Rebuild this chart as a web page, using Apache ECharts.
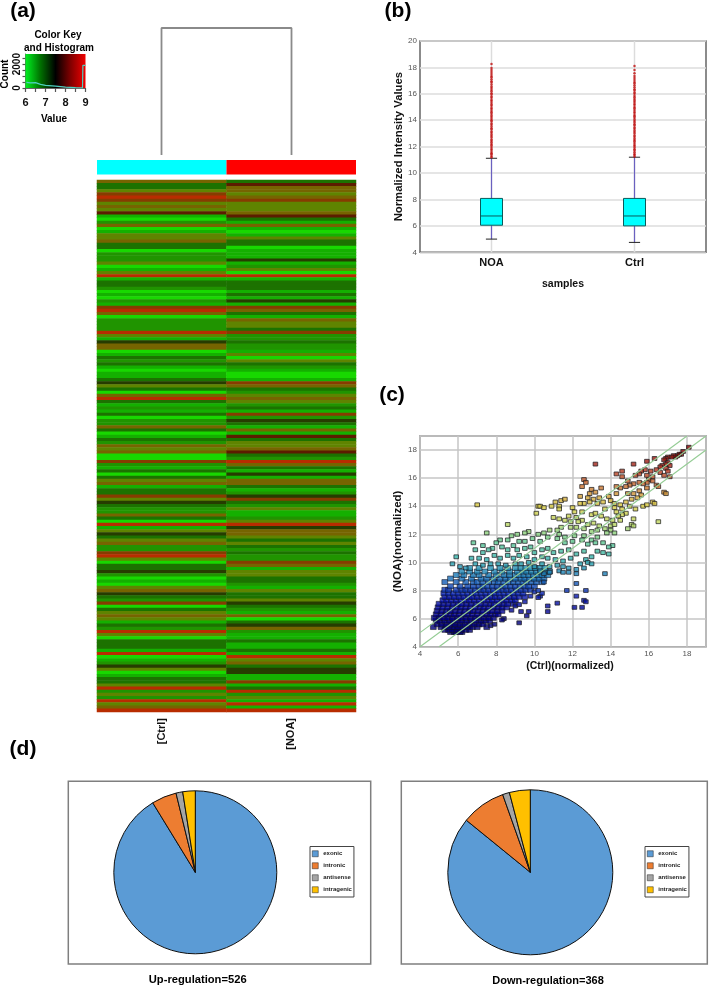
<!DOCTYPE html>
<html><head><meta charset="utf-8">
<style>html,body{margin:0;padding:0;background:#fff}#c{width:709px;height:988px}</style>
<script src="https://cdn.jsdelivr.net/npm/echarts@6/dist/echarts.min.js"></script>
</head><body><div id="c"></div>
<script>
// ---------- (a) colour key
const keyGradientLine=[[6,2850],[9,2850]];
const keyHistogram=[[6.05,470],[6.25,430],[6.5,450],[6.75,300],[7,220],[7.5,160],[8,80],[8.5,25],[8.85,10],[8.87,1900],[9,1900]];
// ---------- (a) dendrogram
const dendroLine=[[0,0],[0,1],[1,1],[1,0]];
// ---------- (a) heat map: colour level per row, top to bottom
const heatCols=['[Ctrl]','[NOA]'];
const heatCtrl=[
 6,3,3,5,7,8,7,5,6,5,9,1,0,2,6,0,1,5,5,6,3,3,0,2,2,2,5,0,1,5,8,1,3,3,2,0,1,
 0,2,1,7,8,6,0,2,2,2,2,8,5,1,4,6,6,0,1,3,2,3,1,0,1,1,3,4,5,3,0,6,8,3,1,2,
 1,3,0,2,2,6,3,0,1,3,2,6,5,6,0,0,7,2,1,3,0,3,5,6,1,3,3,7,5,4,3,2,2,6,3,0,
 8,1,5,4,3,5,6,2,2,7,8,5,0,3,3,4,2,0,1,0,5,6,4,3,2,7,0,3,5,6,5,1,3,2,8,5,0,3,
 3,3,1,8,0,1,2,4,5,0,1,3,3,5,8,2,5,2,8,5,6,8];
const heatNoa=[
 3,9,6,6,5,6,7,5,5,5,6,9,3,1,6,1,0,1,5,3,3,0,1,1,1,4,1,2,5,0,8,1,3,3,3,1,3,
 1,4,1,7,6,3,1,6,5,5,3,7,2,2,3,2,2,1,5,0,5,3,2,1,0,0,1,7,6,3,2,5,6,5,2,3,
 1,7,2,4,3,1,6,1,9,3,5,5,6,9,3,2,8,6,3,1,4,1,6,6,3,1,2,4,7,3,2,5,1,1,2,5,
 8,4,6,6,5,3,5,3,2,3,2,2,7,6,1,5,5,3,3,2,1,5,3,3,5,4,3,2,1,6,0,3,4,6,2,1,1,3,
 1,1,3,1,8,5,6,3,4,4,1,1,7,1,3,8,2,5,1,8,1,8];
const heatColors=['#18d800','#14b000','#209400','#1c7200','#263c00','#5f8400','#766400','#863c00','#b82c00','#5c1c00'];
// ---------- (b) box plot: min, q1, median, q3, max
const boxCats=['NOA','Ctrl'];
const noaBox=[5.0,6.05,6.75,8.08,11.12];
const ctrlBox=[4.75,6.0,6.75,8.08,11.2];
const noaOutliers=[11.2,11.3,11.42,11.5,11.62,11.75,11.85,11.98,12.1,12.2,12.34,12.45,12.55,12.7,12.8,12.92,13.05,13.15,13.3,13.4,13.52,13.65,13.75,13.9,14.0,14.12,14.25,14.35,14.5,14.6,14.72,14.85,14.95,15.1,15.2,15.32,15.45,15.55,15.7,15.8,15.95,16.05,16.2,16.3,16.45,16.55,16.7,16.85,16.95,17.1,17.25,17.35,17.5,17.65,17.8,17.95,18.25];
const ctrlOutliers=[11.25,11.36,11.45,11.58,11.7,11.8,11.93,12.05,12.15,12.28,12.4,12.5,12.62,12.75,12.85,13.0,13.1,13.22,13.35,13.45,13.6,13.7,13.82,13.95,14.05,14.18,14.3,14.4,14.55,14.65,14.78,14.9,15.0,15.15,15.25,15.38,15.5,15.6,15.75,15.85,16.0,16.1,16.25,16.35,16.5,16.65,16.8,16.9,17.05,17.2,17.35,17.55,17.8,18.1];
// ---------- (c) scatter: sparse upper and outlying points [Ctrl, NOA]
const scatterSparse=[[18.1,18.2],[17.8,17.9],[17.7,17.7],[17.6,17.7],[17.5,17.6],[17.4,17.5],[17.3,17.6],[17.2,17.5],[17,17.5],[16.9,17.4],[16.8,17.3],[17,17.1],[16.9,17],[16.7,16.9],[17.1,16.9],[16.9,16.7],[16.6,16.8],[16.4,16.6],[16.1,16.5],[15.8,16.6],[15.6,16.5],[15.5,16.3],[15.3,16.2],[15.9,16.2],[16.2,16.1],[16.6,16.4],[16.8,16.2],[17,16.5],[17.1,16.1],[16,15.9],[15.9,15.7],[15.7,15.6],[15.5,15.7],[15.2,15.6],[15,15.5],[14.8,15.4],[14.5,15.3],[14.3,15.4],[14.9,15.8],[14.6,16.1],[14.3,16.3],[14.6,16.5],[15.2,17],[15.9,17.2],[13.2,17],[16.3,17.4],[16.2,15.8],[16.4,15.5],[15.9,15.3],[15.5,15.1],[15.2,14.9],[14.9,14.9],[15.6,14.8],[15.4,14.6],[15.1,14.5],[16.5,15.4],[16.8,15],[16.9,14.9],[16.2,14.3],
[12.6,15.9],[12.7,15.7],[12.5,15.4],[13.5,15.3],[13,15.2],[13.2,15],[12.9,14.9],[12.4,14.7],[12.8,14.6],[13.1,14.5],[13.4,14.6],[13.6,14.3],[13.9,14.7],[14.3,14.9],[14,14.4],[14.2,14.2],[14.5,14.1],[14.8,14.3],[14.2,13.9],[14.6,13.8],[15,14],[15.3,13.8],[15.7,14],[15.9,14.1],[16.3,14.2],[14.8,13.5],[15.2,13.1],[14.6,13.4],[14.4,13.3],[14.3,13.6],[13.7,13.8],[13.3,14.2],[12.9,14.3],[12.6,14.2],[12.4,14.2],[11.4,14.4],[11.1,14.3],[11.6,14.5],[11.3,14],[11.3,13.8],[10.2,14],[10.3,14],[10.5,13.9],[10.9,14],[12,13.9],[12.1,13.6],[12.5,13.6],[13,13.4],[13.2,13.5],[13.5,13.3],[13.8,13.1],[14.1,13],[14.5,13],[15.1,12.7],[14.9,12.4],[15.2,12.6],[16.5,12.9],[7,14.1],[10.1,13.5],
[11,13.2],[11.3,13.1],[11.6,13],[11.8,13.3],[12.2,13.2],[12.5,13],[11.9,12.9],[12.3,12.9],[12.8,12.7],[13.1,12.8],[13.4,12.6],[13.7,12.4],[14,12.6],[14.2,12.7],[14,12.3],[13.8,12.1],[14.2,12.1],[13.3,12.3],[13,12.2],[12.6,12.4],[12.2,12.5],[11.9,12.5],[11.4,12.5],[11.2,12.3],[10.8,12.3],[10.5,12.1],[10.2,12],[9.7,12.2],[9.5,12.1],[9.1,12],[8.8,11.9],[8.6,12.7],[7.5,12.1],[11.3,12],[11.6,11.8],[12.1,11.9],[12.6,11.9],[13,11.6],[13.3,11.8],[13.6,11.4],[14.1,11.2],[13.9,11.1],[13.2,11.4],[12.8,11.3],[12.5,11.6],[12,11.5],[11.6,11.4],[11.2,11.7],[10.7,11.8],[10.3,11.5],[9.9,11.7],[9.5,11.5],[9.2,11.5],[8.9,11.2],[8.6,11.6],[8.2,11.6],[8,11.4],[8.3,11.1],[7.8,11],[6.8,11.4],[7.3,11.2],[6.9,10.9],[7.3,10.7],[7.6,10.9],[8.6,10.9],[9.1,10.9],[9.5,11],[9.8,11.1],[10,10.7],[10.4,10.9],[10.7,11],[11,10.7],[11.4,10.8],[11.8,10.9],[12.2,10.6],[12.6,10.8],[13,10.4],[12.7,10.2],[13.3,10.8],[13.6,10.7],[13.9,10.6],
[12.8,10],[13,9.9],[12.4,9.9],[11.9,10.3],[11.5,10.1],[11.1,10.2],[10.7,10.3],[10.4,10.4],[10,10.2],[9.6,10.4],[9.2,10.5],[8.9,10.3],[8.6,10.5],[8.2,10.3],[7.9,10.5],[7.5,10.2],[7.1,10.3],[6.7,10.3],[5.9,10.4],[5.7,9.9],[6.1,9.7],[6.4,9.6],[6.9,9.9],[7.3,9.8],[7.7,9.9],[8.1,9.9],[8.5,9.8],[9,9.9],[9.3,9.9],[9.7,10],[10,9.7],[10.4,9.9],[10.8,9.7],[11.2,9.8],[11.5,9.7],[11.8,9.6],[12.2,9.5],[12.6,9.6],[11.3,9.4],[11.5,9.3],[11.8,9.3],[12.2,9.2],[13.7,9.2],[10.8,9.3],[10.5,9.2],[10.3,9.4],
[12.7,8],[12.2,8.5],[11.7,8],[12.2,7.6],[12.6,7.3],[12.7,7.2],[12.1,6.8],[12.5,6.8],[11.2,7.1],[10.7,6.9],[10.7,6.5],[9.3,6.5],[9.7,6.5],[9.6,6.2],[9.2,5.7],[10.3,7.6],[10.4,7.8],[10.2,7.5],[8.4,6],[8.3,5.9],[7.7,5.5],[7.9,5.6],[8.8,6.6],[9,6.9],[9.2,7],[9.5,7.2],[9.8,7.6],[10,7.9],[10.2,8],[10.5,8.6]];
// ---------- (c) scatter: dense cloud, NOA value then the Ctrl values on that row
const cloud52=[5.05,5.6,5.8,5.9,6.1,6.2];
const cloud53=[5.2,5.3,5.5,5.7,5.95,6.15,6.4,6.6];
const cloud54=[5.4,4.7,5.1,5.35,5.55,5.8,6,6.25,6.5,6.75,7,7.5];
const cloud56=[5.6,4.9,5.15,5.4,5.65,5.85,6.1,6.35,6.6,6.85,7.1,7.3];
const cloud58=[5.85,4.85,5.05,5.3,5.55,5.75,6,6.2,6.45,6.7,6.95,7.2,7.45,7.65];
const cloud60=[6.05,4.75,5,5.25,5.45,5.7,5.95,6.15,6.4,6.65,6.9,7.1,7.35,7.6,7.85];
const cloud63=[6.3,4.85,5.1,5.35,5.6,5.8,6.05,6.3,6.5,6.75,7,7.25,7.5,7.7,7.95,8.1];
const cloud65=[6.55,4.9,5.15,5.4,5.6,5.85,6.1,6.35,6.6,6.8,7.05,7.3,7.55,7.8,8.05,8.3];
const cloud68=[6.8,4.95,5.2,5.45,5.7,5.95,6.15,6.4,6.65,6.9,7.15,7.35,7.6,7.85,8.1,8.3,8.55];
const cloud70=[7.05,5,5.25,5.5,5.75,6,6.2,6.45,6.7,6.95,7.2,7.45,7.7,7.9,8.15,8.4,8.6,8.9];
const cloud73=[7.3,5.2,5.4,5.65,5.9,6.15,6.4,6.6,6.85,7.1,7.35,7.6,7.8,8.05,8.3,8.55,8.8,9];
const cloud75=[7.55,5.3,5.55,5.8,6.05,6.3,6.55,6.75,7,7.25,7.5,7.75,7.95,8.2,8.45,8.7,8.95,9.2,9.5];
const cloud78=[7.8,5.25,5.5,5.75,6,6.25,6.5,6.75,6.95,7.2,7.45,7.7,7.95,8.15,8.4,8.65,8.9,9.15,9.4];
const cloud80=[8.05,5.3,5.5,5.9,6.2,6.4,6.65,6.9,7.15,7.35,7.6,7.85,8.1,8.35,8.55,8.8,9.05,9.3,9.55,9.8];
const cloud83=[8.3,5.6,6.1,6.5,6.8,7.1,7.3,7.55,7.8,8.05,8.3,8.5,8.75,9,9.25,9.5,9.7,10];
const cloud86=[8.6,5.3,5.9,6.4,6.8,7,7.3,7.6,7.9,8.1,8.4,8.65,8.9,9.15,9.4,9.6,9.85,10.1,10.4];
const cloud88=[8.85,5.6,6.2,6.7,7.2,7.5,7.85,8.2,8.5,8.75,9,9.3,9.5,9.75,10,10.25,10.5];
const cloud91=[9.1,5.9,6.3,6.8,7.1,7.6,8,8.4,8.7,9,9.2,9.45,9.7,9.95,10.2,10.4,10.7];
const cloud93=[9.35,6.2,6.6,7,7.4,7.9,8.3,8.7,9.1,9.4,9.6,9.85,10.1,10.35,10.6,10.8];
const cloud96=[9.6,6.6,7.1,7.7,8.2,8.6,9,9.3,9.55,9.8,10.05,10.3,10.55];
const cloudRows=[cloud52,cloud53,cloud54,cloud56,cloud58,cloud60,cloud63,cloud65,cloud68,cloud70,cloud73,cloud75,cloud78,cloud80,cloud83,cloud86,cloud88,cloud91,cloud93,cloud96];
const foldLineMid=[[4,4],[19,19]];
const foldLineUp=[[4,5],[18,19]];
const foldLineDown=[[5,4],[19,18]];
// ---------- (d) pies
const pieNames=['exonic','intronic','antisense','intragenic'];
const upCounts=[480,26,7,13];
const downCounts=[316,32,5,15];

const FONT='"Liberation Sans",Arial,sans-serif';
const cloudPoints=[];
cloudRows.forEach(r=>r.slice(1).forEach(x=>cloudPoints.push([x,r[0]])));
const heatData=[];
heatCtrl.forEach((v,i)=>{heatData.push([0,i,v]);heatData.push([1,i,heatNoa[i]]);});
const rowCats=heatCtrl.map((_,i)=>String(i));

const chart=echarts.init(document.getElementById('c'),null,{renderer:'canvas'});
const txt=(text,x,y,size,rot)=>({type:'text',x,y,rotation:rot||0,style:{text,font:'bold '+size+'px '+FONT,fill:'#000',textAlign:'center',textVerticalAlign:'middle'}});
const frame=(x,y,w,h)=>({type:'rect',shape:{x,y,width:w,height:h},style:{fill:'none',stroke:'#7f7f7f',lineWidth:1.5}});
const hidden={show:false};

const series=[
 {type:'line',xAxisIndex:0,yAxisIndex:0,data:keyGradientLine,symbol:'none',lineStyle:{width:0},z:1,
  areaStyle:{opacity:1,color:new echarts.graphic.LinearGradient(0,0,1,0,[{offset:0,color:'#00f020'},{offset:.25,color:'#007000'},{offset:.5,color:'#000'},{offset:.75,color:'#800000'},{offset:1,color:'#f00000'}])}},
 {type:'line',xAxisIndex:0,yAxisIndex:0,data:keyHistogram,symbol:'none',lineStyle:{color:'#4fd0c0',width:1.2},z:3},
 {type:'line',xAxisIndex:1,yAxisIndex:1,data:dendroLine,symbol:'none',clip:false,lineStyle:{color:'#8a8a8a',width:1.8}},
 {type:'bar',xAxisIndex:2,yAxisIndex:2,barWidth:'100%',data:[{value:1,itemStyle:{color:'#00ffff'}},{value:1,itemStyle:{color:'#ff0000'}}]},
 {type:'heatmap',xAxisIndex:3,yAxisIndex:3,data:heatData,progressive:0,emphasis:{disabled:true}},
 {type:'custom',xAxisIndex:4,yAxisIndex:4,encode:{x:0,y:[1,2,3,4,5]},clip:false,
  data:[[0,...noaBox],[1,...ctrlBox]],
  renderItem(p,api){
   const i=api.value(0),c=v=>api.coord([i,v]),x=c(4)[0];
   const ln=(a,b,hw,color,w)=>({type:'line',shape:{x1:x-hw,y1:a,x2:x+hw,y2:b},style:{stroke:color,lineWidth:w}});
   const y=[1,2,3,4,5].map(k=>c(api.value(k))[1]);
   const vl=(a,b,color,w)=>({type:'line',shape:{x1:x,y1:a,x2:x,y2:b},style:{stroke:color,lineWidth:w}});
   return {type:'group',children:[
    vl(c(20)[1],c(4)[1],'#dcdcdc',1.5),
    vl(y[0],y[1],'#6a60c0',1.2),vl(y[3],y[4],'#6a60c0',1.2),
    ln(y[0],y[0],5.6,'#222',1),ln(y[4],y[4],5.6,'#222',1),
    {type:'rect',shape:{x:x-11,y:y[3],width:22,height:y[1]-y[3]},style:{fill:'#00ffff',stroke:'#0b5a5a',lineWidth:1}},
    ln(y[2],y[2],11,'#0b5a5a',1)]};
  }},
 {type:'scatter',xAxisIndex:4,yAxisIndex:4,symbolSize:2.5,itemStyle:{color:'#c01010'},z:4,data:noaOutliers.map(v=>[0,v])},
 {type:'scatter',xAxisIndex:4,yAxisIndex:4,symbolSize:2.5,itemStyle:{color:'#c01010'},z:4,data:ctrlOutliers.map(v=>[1,v])}
];
const scatterIndex=series.length;
series.push({type:'scatter',xAxisIndex:5,yAxisIndex:5,data:cloudPoints,symbol:'rect',symbolSize:[5.8,5],itemStyle:{borderColor:'#14141e',borderWidth:.7},z:3});
series.push({type:'scatter',xAxisIndex:5,yAxisIndex:5,data:scatterSparse,symbol:'rect',symbolSize:[4.6,3.9],itemStyle:{borderColor:'#1c1c20',borderWidth:.9},z:3});
[foldLineMid,foldLineUp,foldLineDown].forEach(d=>series.push({type:'line',xAxisIndex:5,yAxisIndex:5,data:d,symbol:'none',z:5,lineStyle:{color:'#94cc94',width:1.1}}));
const pie=(name,center,r,data)=>({type:'pie',name,center,radius:r,startAngle:90,clockwise:true,label:hidden,labelLine:hidden,silent:true,emphasis:{disabled:true},
  itemStyle:{borderColor:'#101010',borderWidth:1},
  color:['#5b9bd5','#ed7d31','#a5a5a5','#ffc000'],
  data:data.map((v,i)=>({name:pieNames[i],value:v}))});
series.push(pie('up',[195.3,872.3],81.5,upCounts));
series.push(pie('down',[530.3,872.3],82.5,downCounts));

const lightAxis=(extra)=>Object.assign({axisLine:hidden,axisTick:hidden,axisLabel:{fontSize:8,color:'#555',fontFamily:FONT,margin:3}},extra);
const legend=(left)=>({left,top:846.5,orient:'vertical',data:pieNames,itemWidth:6,itemHeight:6,itemGap:5.5,icon:'rect',padding:[4,2,4,2],itemStyle:{borderWidth:.5,borderColor:'#222'},
  borderColor:'#444',borderWidth:1,backgroundColor:'#fff',selectedMode:false,textStyle:{fontFamily:FONT,fontWeight:'bold',fontSize:6,color:'#222'}});

chart.setOption({
 animation:false,
 legend:[legend(310),legend(645)],
 grid:[
  {left:25.5,top:54,width:60,height:34},
  {left:161.5,top:28,width:130,height:127},
  {left:97,top:160,width:259,height:14.5},
  {left:97,top:180,width:259,height:532},
  {left:420,top:41,width:286,height:211.3,show:true,borderColor:'#666',borderWidth:1.5},
  {left:420,top:436,width:286,height:210.7,show:true,borderColor:'#777',borderWidth:1.5}
 ],
 xAxis:[
  {gridIndex:0,type:'value',min:6,max:9,interval:.5,splitLine:hidden,axisLine:{lineStyle:{color:'#666'}},axisTick:{length:4,lineStyle:{color:'#555',width:1.2}},
   axisLabel:{margin:9,fontSize:11,fontWeight:'bold',color:'#111',fontFamily:FONT,formatter:v=>v%1===0?String(v):''}},
  {gridIndex:1,type:'value',min:0,max:1,show:false},
  {gridIndex:2,type:'category',data:heatCols,show:false},
  {gridIndex:3,type:'category',data:heatCols,axisLine:hidden,axisTick:hidden,
   axisLabel:{rotate:90,margin:6,fontSize:11,fontWeight:'bold',color:'#111',fontFamily:FONT}},
  {gridIndex:4,type:'category',data:boxCats,axisLine:hidden,axisTick:hidden,name:'samples',nameLocation:'middle',nameGap:26,
   nameTextStyle:{fontSize:10.5,fontWeight:'bold',color:'#111',fontFamily:FONT},
   axisLabel:{margin:5,fontSize:11,fontWeight:'bold',color:'#111',fontFamily:FONT}},
  lightAxis({gridIndex:5,type:'value',min:4,max:19,interval:2,splitLine:{lineStyle:{color:'#c6c6c6',width:1.5}},
   name:'(Ctrl)(normalized)',nameLocation:'middle',nameGap:14,nameTextStyle:{fontSize:10.5,fontWeight:'bold',color:'#111',fontFamily:FONT,padding:[0,0,0,14]},
   axisLabel:{fontSize:8,color:'#555',fontFamily:FONT,margin:3,showMaxLabel:false}})
 ],
 yAxis:[
  {gridIndex:0,type:'value',min:0,max:2850,interval:500,splitLine:hidden,axisLine:{show:true,lineStyle:{color:'#666'}},axisTick:{show:true,length:3,lineStyle:{color:'#555',width:1.2}},
   axisLabel:{rotate:90,margin:3,fontSize:10,fontWeight:'bold',color:'#111',fontFamily:FONT,showMaxLabel:false,formatter:v=>(v===0||v===2000)?String(v):''}},
  {gridIndex:1,type:'value',min:0,max:1,show:false},
  {gridIndex:2,type:'value',min:0,max:1,show:false},
  {gridIndex:3,type:'category',data:rowCats,inverse:true,show:false},
  lightAxis({gridIndex:4,type:'value',min:4,max:20,interval:2,splitLine:{lineStyle:{color:'#dcdcdc',width:1.5}},
   name:'Normalized Intensity Values',nameLocation:'middle',nameGap:15,nameTextStyle:{fontSize:11.3,fontWeight:'bold',color:'#111',fontFamily:FONT}}),
  lightAxis({gridIndex:5,type:'value',min:4,max:19,interval:2,splitLine:{lineStyle:{color:'#c6c6c6',width:1.5}},
   name:'(NOA)(normalized)',nameLocation:'middle',nameGap:15,nameTextStyle:{fontSize:11.5,fontWeight:'bold',color:'#111',fontFamily:FONT},
   axisLabel:{fontSize:8,color:'#555',fontFamily:FONT,margin:3,showMaxLabel:false}})
 ],
 visualMap:[
  {show:false,type:'piecewise',seriesIndex:4,dimension:2,pieces:heatColors.map((color,i)=>({value:i,color}))},
  {show:false,type:'continuous',seriesIndex:[scatterIndex,scatterIndex+1],dimension:1,min:5,max:18,
   inRange:{color:['#000070','#00008c','#0818b0','#1870b8','#30b0b0','#60c890','#c0d860','#d8c840','#c87030','#b03020','#800000']}}
 ],
 series,
 graphic:{elements:[
  frame(68.3,781.3,302.4,182.7),frame(401.3,781.3,306,182.7),
  txt('(a)',23,11,21),txt('(b)',398,11,21),txt('(c)',392,395,21),txt('(d)',23,749,21),
  txt('Color Key',58,35,10),txt('and Histogram',59,48,10),txt('Count',5,74,10,Math.PI/2),txt('Value',54,119,10),
  txt('Up-regulation=526',197.7,979.5,11.2),txt('Down-regulation=368',548,981,11)
 ]}
});
</script></body></html>
